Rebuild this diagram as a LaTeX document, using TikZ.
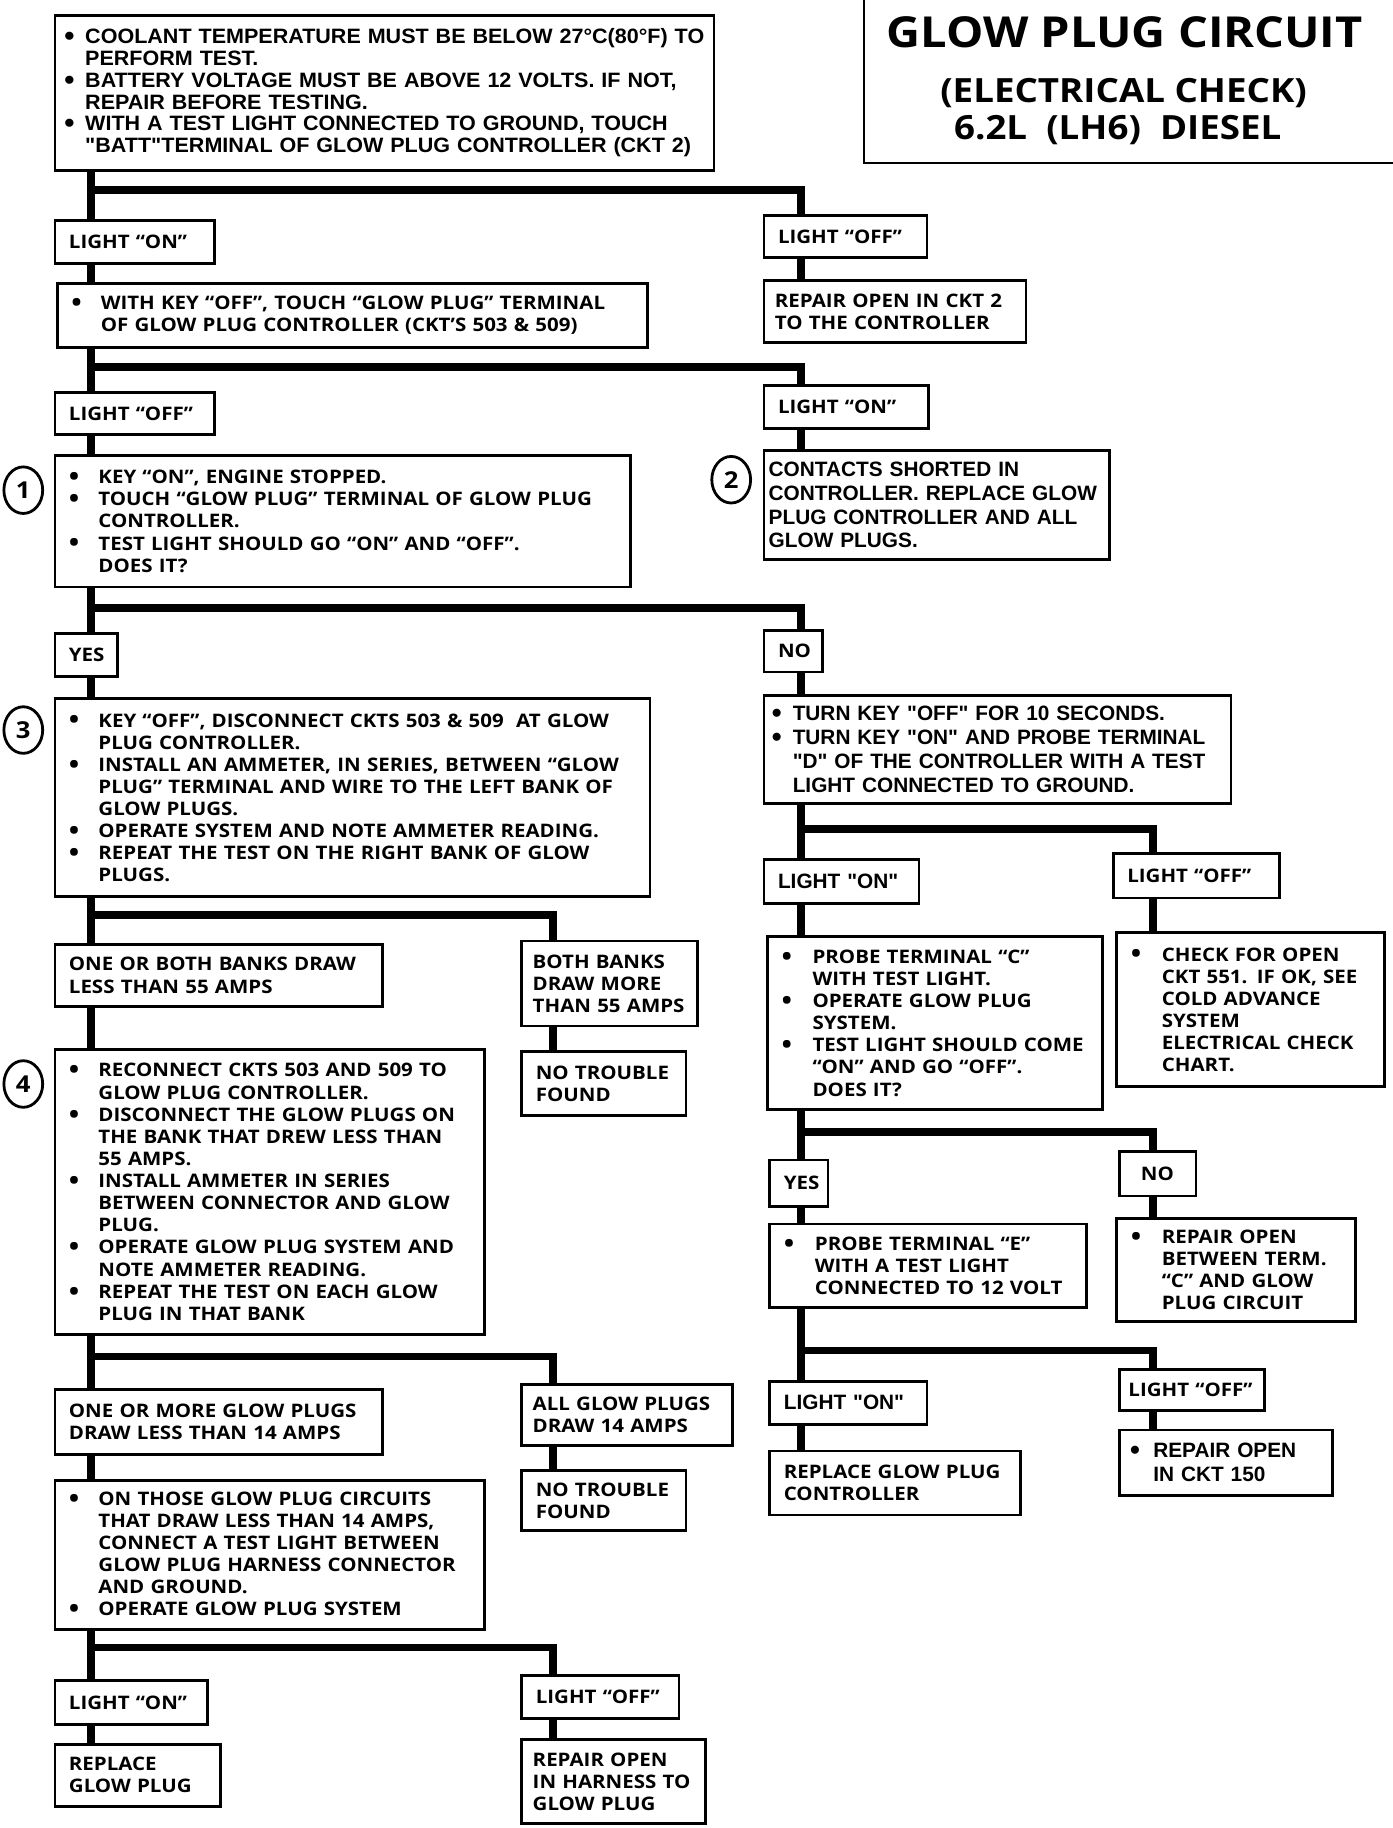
\documentclass[tikz,border=0pt]{standalone}
\usepackage{fontspec}
\setmainfont{Open Sans}
\newfontfamily\frut{Open Sans}[FakeStretch=1.1]
\newfontfamily\helv{Liberation Sans}
\newfontfamily\helvw{Liberation Sans}[FakeStretch=1.035]
\usetikzlibrary{positioning,shapes.geometric}

\newlength\bulw
\newcommand{\blt}{\makebox[\bulw][l]{\raisebox{-0.1em}{\scalebox{1.35}{\textbullet}}}}
\newcommand{\hng}{\hspace*{\bulw}}

\tikzset{
  box/.style={draw, line width=1.8pt, fill=white, anchor=north west, align=left, inner xsep=9pt, inner ysep=0pt},
  fr/.style={font=\frut\bfseries\fontsize{12}{14.25}\selectfont\setlength\bulw{19pt}},
  frw/.style={font=\frut\bfseries\fontsize{12}{14.25}\selectfont\setlength\bulw{20pt}},
  hv/.style={font=\helvw\bfseries\fontsize{13.4}{14}\selectfont\setlength\bulw{13.5pt}},
  hvl/.style={font=\helv\bfseries\fontsize{13.4}{15.4}\selectfont\setlength\bulw{13.5pt}},
  sz/.code 2 args={\pgfmathsetlengthmacro\boxtw{#1*0.75pt-2*\pgfkeysvalueof{/pgf/inner xsep}}%
    \pgfmathsetlengthmacro\boxmh{#2*0.75pt}%
    \tikzset{text width/.expanded=\boxtw, minimum height/.expanded=\boxmh}},
  conn/.style={line width=4.9pt},
  num/.style={draw, ellipse, line width=1.8pt, minimum width=25pt, minimum height=30pt, inner sep=0pt, font=\frut\bfseries\fontsize{15}{15}\selectfont},
}

\begin{document}
\begin{tikzpicture}[x=0.75pt,y=0.75pt,yscale=-1,xscale=1]
\path[use as bounding box] (0,0) rectangle (1196,1570);

% title block
\draw[line width=1.8pt] (742,0) -- (742,140) -- (1196,140);
\node[font=\frut\bfseries\fontsize{27.5}{30}\selectfont] (ttl) at (966,28) {GLOW PLUG CIRCUIT};
\node[font=\frut\bfseries\fontsize{21.5}{22}\selectfont] (ttl2) at (965,80) {(ELECTRICAL CHECK)};
\node[font=\frut\bfseries\fontsize{21.5}{22}\selectfont] (ttl3) at (960,112) {6.2L\ \ (LH6)\ \ DIESEL};

% left column
\node[box, hv, inner xsep=6pt, sz={566}{133}] (top) at (46,12) {\blt COOLANT TEMPERATURE MUST BE BELOW 27°C(80°F) TO\\
\hng PERFORM TEST.\\
\blt BATTERY VOLTAGE MUST BE ABOVE 12 VOLTS. IF NOT,\\
\hng REPAIR BEFORE TESTING.\\
\blt WITH A TEST LIGHT CONNECTED TO GROUND, TOUCH\\
\hng "BATT"TERMINAL OF GLOW PLUG CONTROLLER (CKT 2)};
\node[box, fr, sz={137}{37}] (on1) at (46,188) {LIGHT “ON”};
\node[box, fr, sz={507}{55}] (key1) at (48,242) {\blt WITH KEY “OFF”, TOUCH “GLOW PLUG” TERMINAL\\
\hng OF GLOW PLUG CONTROLLER (CKT’S 503 \& 509)};
\node[box, fr, sz={137}{36}] (off2) at (46,336) {LIGHT “OFF”};
\node[box, fr, sz={494}{113}] (s1) at (46,390) {\blt KEY “ON”, ENGINE STOPPED.\\
\blt TOUCH “GLOW PLUG” TERMINAL OF GLOW PLUG\\
\hng CONTROLLER.\\
\blt TEST LIGHT SHOULD GO “ON” AND “OFF”.\\
\hng DOES IT?};
\node[box, fr, sz={54}{37}] (yes1) at (46,543) {YES};
\node[box, fr, sz={511}{170}] (s3) at (46,599) {\blt KEY “OFF”, DISCONNECT CKTS 503 \& 509\ \ AT GLOW\\
\hng PLUG CONTROLLER.\\
\blt INSTALL AN AMMETER, IN SERIES, BETWEEN “GLOW\\
\hng PLUG” TERMINAL AND WIRE TO THE LEFT BANK OF\\
\hng GLOW PLUGS.\\
\blt OPERATE SYSTEM AND NOTE AMMETER READING.\\
\blt REPEAT THE TEST ON THE RIGHT BANK OF GLOW\\
\hng PLUGS.};
\node[box, fr, sz={281}{53}] (less55) at (46,810) {ONE OR BOTH BANKS DRAW\\LESS THAN 55 AMPS};
\node[box, fr, inner xsep=7pt, sz={151}{73}] (more55) at (447,807) {BOTH BANKS\\DRAW MORE\\THAN 55 AMPS};
\node[box, fr, sz={141}{55}] (ntf1) at (447,902) {NO TROUBLE\\FOUND};
\node[box, fr, sz={369}{245}] (s4) at (46,900) {\blt RECONNECT CKTS 503 AND 509 TO\\
\hng GLOW PLUG CONTROLLER.\\
\blt DISCONNECT THE GLOW PLUGS ON\\
\hng THE BANK THAT DREW LESS THAN\\
\hng 55 AMPS.\\
\blt INSTALL AMMETER IN SERIES\\
\hng BETWEEN CONNECTOR AND GLOW\\
\hng PLUG.\\
\blt OPERATE GLOW PLUG SYSTEM AND\\
\hng NOTE AMMETER READING.\\
\blt REPEAT THE TEST ON EACH GLOW\\
\hng PLUG IN THAT BANK};
\node[box, fr, sz={281}{56}] (less14) at (46,1192) {ONE OR MORE GLOW PLUGS\\DRAW LESS THAN 14 AMPS};
\node[box, fr, inner xsep=7pt, sz={181}{52}] (all14) at (447,1188) {ALL GLOW PLUGS\\DRAW 14 AMPS};
\node[box, fr, sz={141}{51}] (ntf2) at (447,1262) {NO TROUBLE\\FOUND};
\node[box, fr, sz={369}{128}] (s5) at (46,1270) {\blt ON THOSE GLOW PLUG CIRCUITS\\
\hng THAT DRAW LESS THAN 14 AMPS,\\
\hng CONNECT A TEST LIGHT BETWEEN\\
\hng GLOW PLUG HARNESS CONNECTOR\\
\hng AND GROUND.\\
\blt OPERATE GLOW PLUG SYSTEM};
\node[box, fr, sz={131}{38}] (on5) at (46,1442) {LIGHT “ON”};
\node[box, fr, sz={135}{37}] (off5) at (447,1438) {LIGHT “OFF”};
\node[box, fr, sz={142}{53}] (rgp) at (46,1497) {REPLACE\\GLOW PLUG};
\node[box, fr, inner xsep=7pt, sz={158}{72}] (rh) at (447,1493) {REPAIR OPEN\\IN HARNESS TO\\GLOW PLUG};

% right column
\node[box, fr, sz={140}{36}] (off1) at (655,184) {LIGHT “OFF”};
\node[box, fr, inner xsep=7pt, sz={225}{53}] (rep2) at (655,240) {REPAIR OPEN IN CKT 2\\TO THE CONTROLLER};
\node[box, fr, sz={141}{37}] (on2) at (655,330) {LIGHT “ON”};
\node[box, hvl, inner xsep=3pt, sz={297}{93}] (s2) at (655,386) {CONTACTS SHORTED IN\\CONTROLLER. REPLACE GLOW\\PLUG CONTROLLER AND ALL\\GLOW PLUGS.};
\node[box, fr, sz={50}{36}] (no1) at (655,540) {NO};
\node[box, hvl, inner xsep=5pt, sz={401}{93}] (nos) at (655,596) {\blt TURN KEY "OFF" FOR 10 SECONDS.\\
\blt TURN KEY "ON" AND PROBE TERMINAL\\
\hng "D" OF THE CONTROLLER WITH A TEST\\
\hng LIGHT CONNECTED TO GROUND.};
\node[box, hvl, sz={133}{38}] (on3) at (655,737) {LIGHT "ON"};
\node[box, fr, sz={143}{38}] (off3) at (955,732) {LIGHT “OFF”};
\node[box, frw, sz={288}{149}] (pc) at (658,803) {\blt PROBE TERMINAL “C”\\
\hng WITH TEST LIGHT.\\
\blt OPERATE GLOW PLUG\\
\hng SYSTEM.\\
\blt TEST LIGHT SHOULD COME\\
\hng “ON” AND GO “OFF”.\\
\hng DOES IT?};
\node[box, frw, sz={230}{132}] (co) at (958,800) {\blt CHECK FOR OPEN\\
\hng CKT 551. IF OK, SEE\\
\hng COLD ADVANCE\\
\hng SYSTEM\\
\hng ELECTRICAL CHECK\\
\hng CHART.};
\node[box, fr, sz={50}{40}] (yes2) at (660,995) {YES};
\node[box, fr, inner xsep=14pt, sz={66}{38}] (no2) at (960,988) {NO};
\node[box, frw, sz={272}{72}] (pe) at (660,1050) {\blt PROBE TERMINAL “E”\\
\hng WITH A TEST LIGHT\\
\hng CONNECTED TO 12 VOLT};
\node[box, frw, sz={205}{89}] (ro) at (958,1045) {\blt REPAIR OPEN\\
\hng BETWEEN TERM.\\
\hng “C” AND GLOW\\
\hng PLUG CIRCUIT};
\node[box, hvl, sz={135}{37}] (on4) at (660,1185) {LIGHT "ON"};
\node[box, fr, inner xsep=6pt, sz={125}{35}] (off4) at (960,1175) {LIGHT “OFF”};
\node[box, fr, sz={215}{55}] (rc) at (660,1245) {REPLACE GLOW PLUG\\CONTROLLER};
\node[box, hvl, font=\helv\bfseries\fontsize{13.4}{15.4}\selectfont\setlength\bulw{15pt}, inner xsep=7pt, sz={183}{56}] (r150) at (960,1227) {\blt REPAIR OPEN\\
\hng IN CKT 150};

% step numbers
\node[num] (c1) at (20,421) {1};
\node[num] (c2) at (628,412) {2};
\node[num] (c3) at (20,627) {3};
\node[num] (c4) at (20,931) {4};

% trunks
\coordinate (xL) at (78,0);
\coordinate (xR) at (688,0);
\coordinate (xRR) at (990,0);
\coordinate (xM) at (475,0);
\coordinate (j1) at (78,163);
\coordinate (j2) at (78,315);
\coordinate (j3) at (78,522);
\coordinate (j4) at (688,712);
\coordinate (j5) at (688,972);
\coordinate (j6) at (688,1160);
\coordinate (j7) at (78,786);
\coordinate (j8) at (78,1165);
\coordinate (j9) at (78,1415);

\draw[conn] (top.south -| xL) -- (on1.north -| xL);
\draw[conn] (on1.south -| xL) -- (key1.north -| xL);
\draw[conn] (key1.south -| xL) -- (off2.north -| xL);
\draw[conn] (off2.south -| xL) -- (s1.north -| xL);
\draw[conn] (s1.south -| xL) -- (yes1.north -| xL);
\draw[conn] (yes1.south -| xL) -- (s3.north -| xL);
\draw[conn] (s3.south -| xL) -- (less55.north -| xL);
\draw[conn] (less55.south -| xL) -- (s4.north -| xL);
\draw[conn] (s4.south -| xL) -- (less14.north -| xL);
\draw[conn] (less14.south -| xL) -- (s5.north -| xL);
\draw[conn] (s5.south -| xL) -- (on5.north -| xL);
\draw[conn] (on5.south -| xL) -- (rgp.north -| xL);

\draw[conn] (j1) -| (off1.north -| xR);
\draw[conn] (j2) -| (on2.north -| xR);
\draw[conn] (j3) -| (no1.north -| xR);
\draw[conn] (off1.south -| xR) -- (rep2.north -| xR);
\draw[conn] (on2.south -| xR) -- (s2.north -| xR);
\draw[conn] (no1.south -| xR) -- (nos.north -| xR);
\draw[conn] (nos.south -| xR) -- (on3.north -| xR);
\draw[conn] (on3.south -| xR) -- (pc.north -| xR);
\draw[conn] (pc.south -| xR) -- (yes2.north -| xR);
\draw[conn] (yes2.south -| xR) -- (pe.north -| xR);
\draw[conn] (pe.south -| xR) -- (on4.north -| xR);
\draw[conn] (on4.south -| xR) -- (rc.north -| xR);

\draw[conn] (j4) -| (off3.north -| xRR);
\draw[conn] (j5) -| (no2.north -| xRR);
\draw[conn] (j6) -| (off4.north -| xRR);
\draw[conn] (off3.south -| xRR) -- (co.north -| xRR);
\draw[conn] (no2.south -| xRR) -- (ro.north -| xRR);
\draw[conn] (off4.south -| xRR) -- (r150.north -| xRR);

\draw[conn] (j7) -| (more55.north -| xM);
\draw[conn] (j8) -| (all14.north -| xM);
\draw[conn] (j9) -| (off5.north -| xM);
\draw[conn] (more55.south -| xM) -- (ntf1.north -| xM);
\draw[conn] (all14.south -| xM) -- (ntf2.north -| xM);
\draw[conn] (off5.south -| xM) -- (rh.north -| xM);

\end{tikzpicture}
\end{document}
